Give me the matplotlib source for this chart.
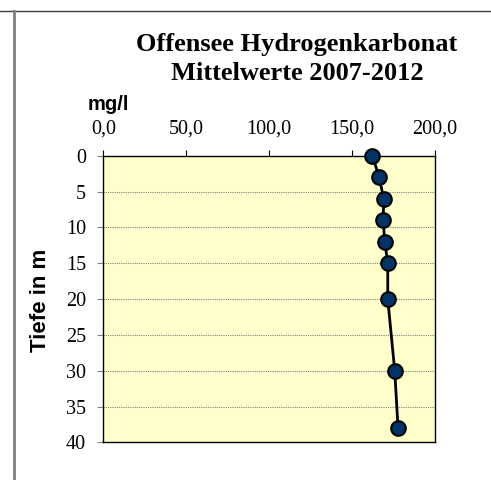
import matplotlib
matplotlib.use("Agg")
import matplotlib.pyplot as plt
from matplotlib.lines import Line2D
from matplotlib.ticker import FuncFormatter

# Mittelwerte 2007-2012, Hydrogenkarbonat (mg/l) nach Tiefe (m)
tiefe = [0, 3, 6, 9, 12, 15, 20, 30, 38]
hco3 = [162.3, 166.3, 169.1, 168.7, 169.7, 171.5, 171.5, 175.7, 177.7]
x_ticks = [0, 50, 100, 150, 200]
y_ticks = [0, 5, 10, 15, 20, 25, 30, 35, 40]

fig = plt.figure(figsize=(4.91, 4.8), dpi=100)
ax = fig.add_axes([0.2104, 0.0785, 0.6756, 0.597])
ax.set_facecolor("#FFFFCC")

ax.plot(hco3, tiefe, color="black", lw=2, marker="o", markersize=10.5,
        markerfacecolor="#003366", markeredgecolor="black", markeredgewidth=1.5,
        clip_on=False, zorder=3)

ax.set_xlim(0, 200)
ax.set_ylim(40, 0)
ax.set_xticks(x_ticks)
ax.set_yticks(y_ticks)
ax.xaxis.set_major_formatter(FuncFormatter(lambda v, p: f"{v:.1f}".replace(".", ",")))
ax.xaxis.tick_top()
ax.tick_params(axis="both", direction="out", length=4.5, width=0.8, colors="black",
               labelsize=14.5, pad=8)
ax.tick_params(axis="y", colors="#808080", labelcolor="black")
for lab in ax.get_xticklabels() + ax.get_yticklabels():
    lab.set_fontfamily("Liberation Serif")

ax.yaxis.grid(True, color="#808080", linestyle=(0, (1, 1)), linewidth=0.8)
for s in ax.spines.values():
    s.set_linewidth(1.0)
    s.set_color("black")

fig.text(40 / 491, 1 - 300 / 480, "Tiefe in m", rotation=90, ha="center", va="center",
         fontfamily="Liberation Sans", fontweight="bold", fontsize=16)

fig.text(0.605, 1 - 59 / 480, "Offensee Hydrogenkarbonat\nMittelwerte 2007-2012",
         ha="center", va="center", fontfamily="Liberation Serif",
         fontweight="bold", fontsize=19, linespacing=1.35)
fig.text(108.5 / 491, 1 - 105 / 480, "mg/l", ha="center", va="center",
         fontfamily="Liberation Sans", fontweight="bold", fontsize=14.5)

# Zellrahmen aus der Tabelle
fig.add_artist(Line2D([0, 1], [1 - 11 / 480, 1 - 11 / 480], color="#404040", lw=1,
                      transform=fig.transFigure))
fig.add_artist(Line2D([13.5 / 491, 13.5 / 491], [0, 1 - 11 / 480], color="#808080",
                      lw=2, transform=fig.transFigure))

fig.savefig("out.png", dpi=100)
